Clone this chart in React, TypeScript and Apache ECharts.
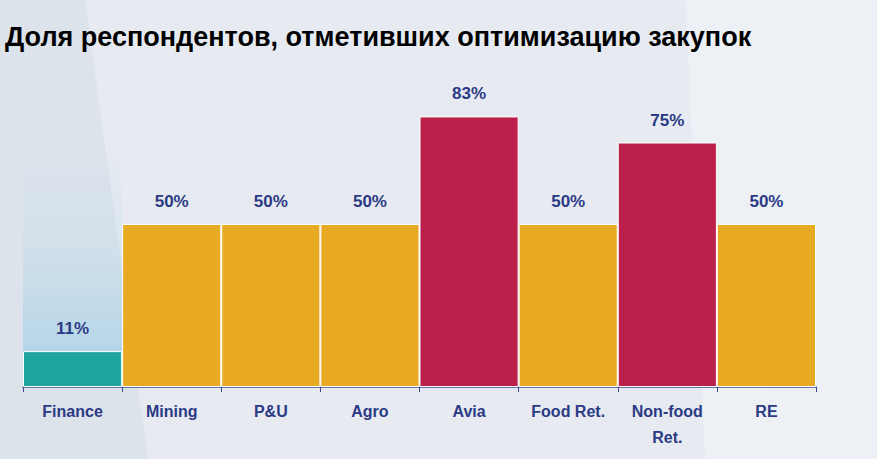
import React, { useEffect, useRef } from "react";
import * as echarts from "echarts";

const categories = ["Finance", "Mining", "P&U", "Agro", "Avia", "Food Ret.", "Non-food Ret.", "RE"];
const values = [11, 50, 50, 50, 83, 50, 75, 50];
const barColors = ["#1fa59f", "#e8aa22", "#e8aa22", "#e8aa22", "#bc1f4a", "#e8aa22", "#bc1f4a", "#e8aa22"];
const highlight = [75, null, null, null, null, null, null, null];
const title = "Доля респондентов, отметивших оптимизацию закупок";

const FONT = '"Liberation Sans", Arial, sans-serif';

export default function App() {
  const ref = useRef<HTMLDivElement>(null);
  useEffect(() => {
    if (!ref.current) return;
    const chart = echarts.init(ref.current, null, { renderer: "svg" });
    chart.setOption({
      animation: false,
      backgroundColor: "#e7ebf1",
      graphic: [
        {
          type: "polygon",
          silent: true,
          z: -10,
          shape: { points: [[0, 0], [85, 0], [148, 459], [0, 459]] },
          style: { fill: "#dde3eb" },
        },
        {
          type: "polygon",
          silent: true,
          z: -10,
          shape: { points: [[686, 0], [877, 0], [877, 459], [705, 459]] },
          style: { fill: "#edf0f4" },
        },
        {
          type: "text",
          left: 5,
          top: 23,
          style: {
            text: title,
            font: `bold 27px ${FONT}`,
            fill: "#000000",
          },
        },
      ],
      grid: { left: 23, right: 61, top: 61, bottom: 72 },
      xAxis: {
        type: "category",
        data: categories,
        axisLine: { lineStyle: { color: "#3b4a8c", width: 1.5 } },
        axisTick: { show: true, length: 5, lineStyle: { color: "#3b4a8c" } },
        axisLabel: {
          color: "#2b3a85",
          fontFamily: FONT,
          fontWeight: "bold",
          fontSize: 16,
          margin: 11,
          lineHeight: 26,
          interval: 0,
          formatter: (v: string) => v.replace("Non-food ", "Non-food\n"),
        },
      },
      yAxis: {
        type: "value",
        min: 0,
        max: 100,
        show: false,
        splitLine: { show: false },
      },
      series: [
        {
          type: "bar",
          data: highlight,
          silent: true,
          barCategoryGap: 0,
          barGap: "-100%",
          z: 1,
          itemStyle: {
            color: new echarts.graphic.LinearGradient(0, 0, 0, 1, [
              { offset: 0, color: "rgba(174,212,232,0)" },
              { offset: 0.45, color: "rgba(174,212,232,0.25)" },
              { offset: 1, color: "rgba(170,210,231,1)" },
            ]),
          },
        },
        {
          type: "bar",
          data: values.map((v, i) => ({ value: v, itemStyle: { color: barColors[i] } })),
          barCategoryGap: 0,
          barGap: "-100%",
          z: 2,
          itemStyle: { borderColor: "#ffffff", borderWidth: 1 },
          label: {
            show: true,
            position: "top",
            distance: 14,
            formatter: "{c}%",
            color: "#2b3a85",
            fontFamily: FONT,
            fontWeight: "bold",
            fontSize: 17,
          },
        },
      ],
    });
    return () => chart.dispose();
  }, []);
  return <div ref={ref} style={{ position: "fixed", left: 0, top: 0, width: 877, height: 459 }} />;
}
